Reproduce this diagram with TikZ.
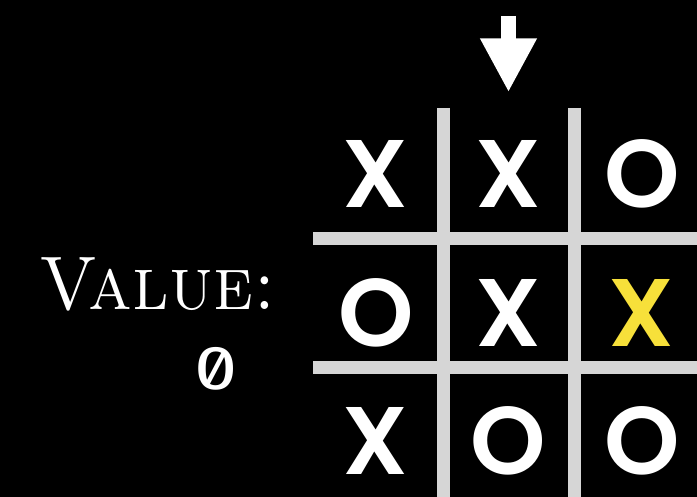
\documentclass[tikz,border=0pt]{standalone}
\usepackage{fontspec}
\newfontfamily\markfont{Poppins}[BoldFont={Poppins SemiBold}]
\newfontfamily\scorefont{Fira Sans}[RawFeature=+zero]
\usepackage{tikz}
\usetikzlibrary{
	positioning,
	arrows.meta
}
\definecolor{gridgray}{HTML}{D6D6D6}
\definecolor{winyellow}{HTML}{F7E03A}

\begin{document}
\begin{tikzpicture}[
				x=1pt, y=-1pt,
				cell/.style={
					text=white,
					inner sep=0pt,
					font=\markfont\bfseries\fontsize{96}{96}\selectfont
				},
				gridline/.style={
					draw=gridgray,
					line width=13pt
				},
				pointer/.style={
					-{Triangle[width=53pt, length=54pt]},
					line width=15pt,
					white
				}
				]
				
				\useasboundingbox (0,0) rectangle (697,497);
				\fill[black] (0,0) rectangle (697,497);
				
				% board
				\draw[gridline] (443,108) -- (443,497);
				\draw[gridline] (574,108) -- (574,497);
				\draw[gridline] (313,238.5) -- (697,238.5);
				\draw[gridline] (313,368) -- (697,368);
				
				\node[cell] (c11) at (375,174) {X};
				\node[cell] (c12) at (508.5,174) {X};
				\node[cell] (c13) at (642,174) {O};
				\node[cell] (c21) at (376,313) {O};
				\node[cell] (c22) at (508.5,313) {X};
				\node[cell, text=winyellow] (c23) at (641.5,313) {X};
				\node[cell] (c31) at (375,440.5) {X};
				\node[cell] (c32) at (508.5,440.5) {O};
				\node[cell] (c33) at (642,440.5) {O};
				
				% move marker
				\coordinate (ptail) at (508.5,16);
				\draw[pointer, shorten >=48pt] (ptail) -- (c12.north);
				
				% value
				\node[text=white, inner sep=0pt, anchor=base east,
					font=\fontsize{76}{76}\selectfont] (vlabel) at (276,310) {\scalebox{0.94}[1]{\textsc{Value:}}};
				\node[text=white, inner sep=0pt, anchor=base east,
					font=\scorefont\fontsize{62}{62}\selectfont] (vscore) at (238,390) {\scalebox{1.25}[1]{0}};
				
			\end{tikzpicture}
\end{document}
